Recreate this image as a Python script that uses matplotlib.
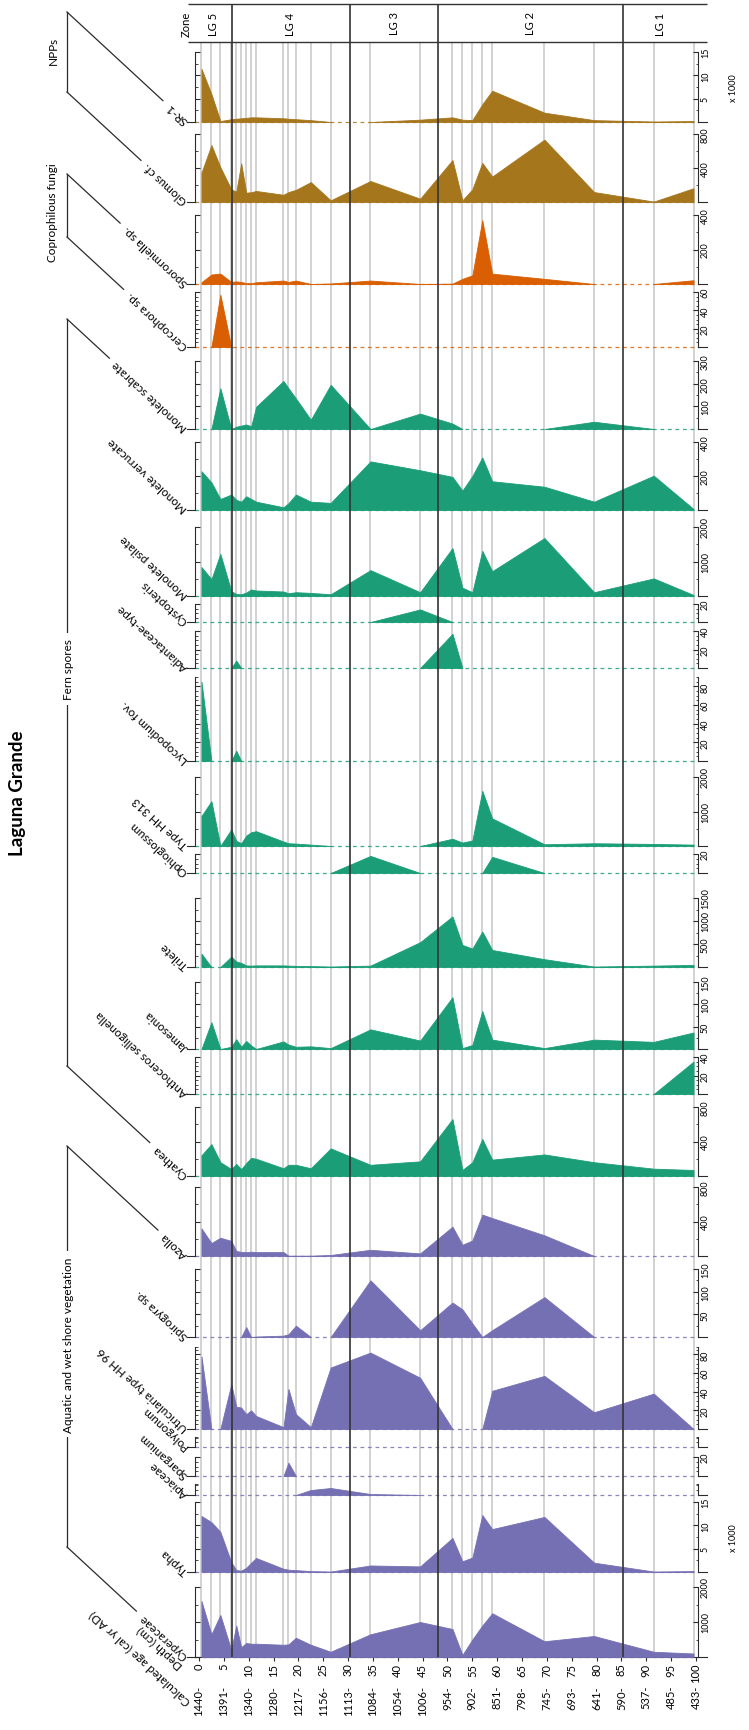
import numpy as np
import matplotlib
matplotlib.use("Agg")
from matplotlib import pyplot as plt

plt.rcParams['font.family'] = ['Lato', 'DejaVu Sans']

W, H = 749, 1731   # output size in pixels (dpi 100)

# ---------------- data ----------------
depth = [0.5, 2.5, 4.3, 6.5, 7.5, 8.5, 9.5, 10.5, 11.5, 17, 18, 19.5, 22.5, 26.5,
         34.5, 44.5, 51, 53, 55, 57, 59, 69.5, 79.5, 91.5, 99.5]
zone_bounds = [6.6, 30.4, 48.1, 85.4]
zone_names = ["LG 5", "LG 4", "LG 3", "LG 2", "LG 1"]
depth_ticks = list(range(0, 101, 5))
ages = [1440, 1391, 1340, 1280, 1217, 1156, 1113, 1084, 1054, 1006, 954,
        902, 851, 798, 745, 693, 641, 590, 537, 485, 433]

sr1 = [11.4, 6.0, 0.2, 0.6, 0.7, 0.8, 0.9, 1.0, 1.0, 0.8, 0.7, 0.6, 0.4, 0, 0,
       0.5, 1.0, 0.5, 0.4, 3.8, 6.7, 2.0, 0.4, 0.1, 0.2]
glomus = [345, 670, 410, 150, 120, 455, 110, 115, 130, 85, 117, 143, 234, 20, 247,
          39, 494, 20, 150, 460, 300, 734, 117, 5, 162]
sporormiella = [10, 55, 60, 12, 15, 12, 5, 5, 10, 20, 12, 20, 0, 3, 20,
                0, 2, 30, 50, 370, 60, 30, 0, 0, 22]
cercophora = [0, 0, 57, 0, 0, 0, 0, 0, 0, 0, 0, 0, 0, 0, 0,
              0, 0, 0, 0, 0, 0, 0, 0, 0, 0]
mono_scabrate = [0, 0, 180, 0, 10, 15, 20, 12, 98, 212, 180, 135, 41, 195, 0,
                 68, 24, 0, 0, 0, 0, 0, 32, 0, 0]
mono_verrucate = [228, 163, 65, 91, 60, 49, 81, 65, 49, 16, 40, 91, 49, 42, 286,
                  234, 195, 114, 200, 309, 169, 137, 49, 202, 6]
mono_psilate = [840, 490, 1220, 140, 60, 50, 100, 190, 160, 130, 80, 110, 90, 50, 750,
                110, 1390, 240, 110, 1310, 720, 1680, 110, 510, 30]
cystopteris = [0, 0, 0, 0, 0, 0, 0, 0, 0, 0, 0, 0, 0, 0, 0,
               14, 0, 0, 0, 0, 0, 0, 0, 0, 0]
adiantaceae = [0, 0, 0, 0, 8, 0, 0, 0, 0, 0, 0, 0, 0, 0, 0,
               0, 37, 0, 0, 0, 0, 0, 0, 0, 0]
lycopodium = [85, 0, 0, 0, 11, 0, 0, 0, 0, 0, 0, 0, 0, 0, 0,
              0, 0, 0, 0, 0, 0, 0, 0, 0, 0]
hh313 = [870, 1300, 0, 480, 150, 80, 300, 400, 430, 130, 80, 70, 40, 0, 0,
         0, 210, 100, 160, 1600, 800, 50, 80, 60, 40]
ophioglossum = [0, 0, 0, 0, 0, 0, 0, 0, 0, 0, 0, 0, 0, 0, 18,
                0, 0, 0, 0, 0, 17, 0, 0, 0, 0]
trilete = [290, 0, 0, 225, 120, 90, 35, 30, 35, 35, 30, 25, 20, 10, 30,
           540, 1100, 480, 400, 770, 370, 170, 10, 30, 45]
jamesonia = [0, 60, 0, 5, 22, 5, 18, 8, 0, 17, 10, 5, 6, 2, 44,
             19, 116, 2, 9, 85, 21, 2, 21, 16, 37]
anthoceros = [0, 0, 0, 0, 0, 0, 0, 0, 0, 0, 0, 0, 0, 0, 0,
              0, 0, 0, 0, 0, 0, 0, 0, 0, 35]
cyathea = [240, 370, 160, 80, 140, 80, 150, 210, 200, 90, 130, 130, 90, 320, 130,
           170, 660, 70, 160, 430, 190, 250, 160, 85, 70]
azolla = [320, 150, 212, 175, 58, 48, 45, 50, 45, 45, 4, 4, 4, 12, 72,
          30, 340, 130, 180, 480, 440, 240, 0, 0, 0]
spirogyra = [0, 0, 0, 0, 0, 0, 22, 0, 1, 3, 6, 25, 0, 0, 125,
             15, 76, 61, 30, 0, 15, 88, 0, 0, 0]
utricularia = [78, 0, 0, 48, 24, 23, 16, 20, 14, 2, 43, 16, 2, 66, 82,
               55, 0, 0, 0, 0, 41, 57, 18, 38, 0]
polygonum = [0] * 25
sparganium = [0, 0, 0, 0, 0, 0, 0, 0, 0, 0, 14, 0, 0, 0, 0,
              0, 0, 0, 0, 0, 0, 0, 0, 0, 0]
apiaceae = [0, 0, 0, 0, 0, 0, 0, 0, 0, 0, 0, 0, 5, 7, 1,
            0, 0, 0, 0, 0, 0, 0, 0, 0, 0]
typha = [12, 10.7, 8.6, 2.1, 0.4, 0.3, 0.9, 2.0, 3.0, 0.7, 0.5, 0.4, 0.2, 0.1, 1.4,
         1.2, 7.3, 2.3, 3.1, 12.2, 9.2, 11.8, 2.0, 0.1, 0.2]
cyperaceae = [1600, 650, 1200, 200, 900, 280, 400, 380, 380, 350, 360, 550, 350, 150, 650,
              1000, 800, 60, 500, 900, 1250, 450, 600, 150, 100]

BROWN, ORANGE, GREEN, PURPLE = "#A6761D", "#D95F02", "#1B9E77", "#7570B3"

# label, values, colour, axis max, labelled ticks, minor step, baseline px, top px
panels = [
    ("SR-1", sr1, BROWN, 15, [5, 10, 15], 2.5, 123, 53),
    ("Glomus cf.", glomus, BROWN, 800, [400, 800], 200, 203, 135),
    ("Sporormiella sp.", sporormiella, ORANGE, 400, [200, 400], 100, 285, 216),
    ("Cercophora sp.", cercophora, ORANGE, 60, [20, 40, 60], 5, 348, 293),
    ("Monolete scabrate", mono_scabrate, GREEN, 300, [100, 200, 300], 50, 430, 362),
    ("Monolete verrucate", mono_verrucate, GREEN, 400, [200, 400], 100, 511, 443),
    ("Monolete psilate", mono_psilate, GREEN, 2000, [1000, 2000], 500, 597, 528),
    ("Cystopteris", cystopteris, GREEN, 20, [20], 5, 623, 605),
    ("Adiantaceae-type", adiantaceae, GREEN, 40, [20, 40], 5, 669, 632),
    ("Lycopodium fov.", lycopodium, GREEN, 90, [20, 40, 60, 80], 5, 762, 678),
    ("Type HH 313", hh313, GREEN, 2000, [1000, 2000], 500, 847, 778),
    ("Ophioglossum", ophioglossum, GREEN, 20, [20], 5, 874, 855),
    ("Trilete", trilete, GREEN, 1500, [500, 1000, 1500], 250, 968, 899),
    ("Jamesonia", jamesonia, GREEN, 150, [50, 100, 150], 25, 1050, 983),
    ("Anthoceros selligonella", anthoceros, GREEN, 40, [20, 40], 5, 1095, 1058),
    ("Cyathea", cyathea, GREEN, 800, [400, 800], 200, 1177, 1108),
    ("Azolla", azolla, PURPLE, 800, [400, 800], 200, 1257, 1188),
    ("Spirogyra sp.", spirogyra, PURPLE, 150, [50, 100, 150], 25, 1338, 1270),
    ("Utricularia type HH 96", utricularia, PURPLE, 88, [20, 40, 60, 80], 5, 1430, 1348),
    ("Polygonum", polygonum, PURPLE, 11, [], 5, 1448, 1438),
    ("Sparganium", sparganium, PURPLE, 20, [20], 5, 1477, 1458),
    ("Apiaceae", apiaceae, PURPLE, 11, [], 5, 1496, 1485),
    ("Typha", typha, PURPLE, 15, [5, 10, 15], 2.5, 1573, 1503),
    ("Cyperaceae", cyperaceae, PURPLE, 2000, [1000, 2000], 500, 1658, 1588),
]
x1000 = ["SR-1", "Typha"]

groups = [
    ("NPPs", "SR-1", "Glomus cf.", 53, 51, False),
    ("Coprophilous fungi", "Sporormiella sp.", "Cercophora sp.", 53, 213, False),
    ("Fern spores", "Monolete scabrate", "Cyathea", 68, 670, True),
    ("Aquatic and wet shore vegetation", "Azolla", "Cyperaceae", 68, 1345, True),
]

# ---------------- layout helpers ----------------
X0, X1 = 195, 698          # panel left / right edges in pixels
XL = (-0.8, 100.4)         # depth range across the panels
TOP, BOTTOM = 5, 1658
HEAD = 43
LX = 186                   # where slanted labels start
SLOPE = 110 / 119
ANG = 180 - np.degrees(np.arctan(SLOPE))
AXC = "#2b2b2b"


def rect(x0, y0, x1, y1):
    return [x0 / W, 1 - y1 / H, (x1 - x0) / W, (y1 - y0) / H]


def px2depth(x):
    return XL[0] + (x - X0) * (XL[1] - XL[0]) / (X1 - X0)


def fill_runs(ax, x, y, color):
    x = np.asarray(x, float)
    y = np.asarray(y, float)
    runs, run = [], []
    for i in range(len(x) - 1):
        if y[i] > 0 or y[i + 1] > 0:
            if not run:
                run = [i]
            run.append(i + 1)
        elif run:
            runs.append(run)
            run = []
    if run:
        runs.append(run)
    for r in runs:
        ax.fill_between(x[r], 0, y[r], color=color, lw=0.6, zorder=3,
                        clip_on=False)


fig = plt.figure(figsize=(W / 100, H / 100), dpi=100)

# grey sample lines behind everything
bg = fig.add_axes(rect(X0, TOP, X1, BOTTOM), zorder=0)
bg.set_xlim(*XL)
bg.set_ylim(BOTTOM, TOP)
bg.axis('off')
bg.vlines(depth, HEAD, BOTTOM, color="#d2d2d2", lw=1.4)

axes = {}
for label, vals, col, ymax, major, minor, base, top in panels:
    ax = fig.add_axes(rect(X0, top, X1, base), zorder=2)
    ax.patch.set_visible(False)
    ax.set_xlim(*XL)
    ax.set_ylim(0, ymax)
    for s in ('top', 'bottom'):
        ax.spines[s].set_visible(False)
    for s in ('left', 'right'):
        ax.spines[s].set_linewidth(0.8)
        ax.spines[s].set_color(AXC)
    ax.set_xticks([])
    ax.set_yticks(major)
    ax.set_yticks(list(np.arange(minor, ymax, minor)) + [ymax], minor=True)
    ax.tick_params(axis='y', which='both', direction='in', left=True, right=True,
                   labelleft=False, labelright=True, labelsize=6.5, pad=2,
                   labelrotation=90, color=AXC)
    ax.tick_params(axis='y', which='major', length=3.5, width=0.8)
    ax.tick_params(axis='y', which='minor', length=1.8, width=0.6)
    for t in ax.get_yticklabels():
        t.set_va('center')
    ax.plot(XL, [0, 0], color=col, lw=0.9, ls=(0, (3, 3)), alpha=0.85, zorder=2,
            clip_on=False)
    fill_runs(ax, depth, vals, col)
    tr = ax.get_yaxis_transform()
    ax.plot([-0.016, 0], [0, 0], transform=tr, clip_on=False, color=AXC, lw=0.8)
    ax.plot([1, 1.018], [0, 0], transform=tr, clip_on=False, color=AXC, lw=0.8)
    axes[label] = ax

# depth and age scale under the last panel
axb = axes["Cyperaceae"]
axb.spines['bottom'].set_visible(True)
axb.spines['bottom'].set_linewidth(0.8)
axb.spines['bottom'].set_color(AXC)
axb.set_xticks(depth_ticks)
axb.set_xticklabels([str(d) for d in depth_ticks])
axb.tick_params(axis='x', direction='out', length=3, labelsize=8, labelrotation=90,
                pad=1, color=AXC)
sec = axb.secondary_xaxis(-0.40)
sec.set_xticks(depth_ticks)
sec.set_xticklabels([f"{a}-" for a in ages])
sec.tick_params(axis='x', length=0, labelsize=8, labelrotation=90, pad=0)
sec.spines['bottom'].set_visible(False)

# zone lines and header on top
ov = fig.add_axes(rect(X0, TOP, X1, BOTTOM), zorder=4)
ov.set_xlim(*XL)
ov.set_ylim(BOTTOM, TOP)
ov.axis('off')
ov.vlines(zone_bounds, TOP, BOTTOM, color="#333333", lw=1.2)
ov.hlines([TOP, HEAD], px2depth(188), px2depth(707), color="#333333", lw=1.0,
          clip_on=False)
edges = [XL[0]] + zone_bounds + [XL[1]]
for i, name in enumerate(zone_names):
    ov.text((edges[i] + edges[i + 1]) / 2, 24, name, rotation=90, ha='center',
            va='center', fontsize=8)
ov.text(px2depth(186), 24, "Zone", rotation=90, ha='center', va='center', fontsize=8)

# labels, group brackets, titles in pixel space
deco = fig.add_axes([0, 0, 1, 1], zorder=5)
deco.set_xlim(0, W)
deco.set_ylim(H, 0)
deco.axis('off')

base_of = {p[0]: p[6] for p in panels}
texts = {}
for label, vals, col, ymax, major, minor, base, top in panels:
    texts[label] = deco.text(LX, base, label, rotation=ANG, rotation_mode='anchor',
                             ha='left', va='center', fontsize=8.5)
for label in x1000:
    p = [q for q in panels if q[0] == label][0]
    deco.text(733, (p[6] + p[7]) / 2, "x 1000", rotation=90, ha='center',
              va='center', fontsize=6.5)

deco.text(181, 1667, "Depth (cm)", rotation=ANG, rotation_mode='anchor',
          ha='left', va='center', fontsize=8.5)
deco.text(189, 1703, "Calculated age (cal yr AD)", rotation=ANG,
          rotation_mode='anchor', ha='left', va='center', fontsize=8.5)
deco.text(18, 793, "Laguna Grande", rotation=90, ha='center', va='center',
          fontsize=13.5, fontweight='bold')

renderer = fig.canvas.get_renderer()
GX = 67
for name, first, last, tx, ty, inline in groups:
    ends = []
    for lab in (first, last):
        base = base_of[lab]
        y0 = base - (LX - GX) * SLOPE
        bb = texts[lab].get_window_extent(renderer=renderer)
        xe = bb.x0 - 1
        ye = base - (LX - xe) * SLOPE
        deco.plot([GX, xe], [y0, ye], color=AXC, lw=0.9)
        ends.append(y0)
    deco.plot([GX, GX], ends, color=AXC, lw=0.9)
    if inline:
        deco.text(tx, ty, name, rotation=90, ha='center', va='center', fontsize=8.5,
                  bbox=dict(facecolor='white', edgecolor='none', pad=4))
    else:
        deco.text(tx, ty, name, rotation=90, ha='center', va='center', fontsize=8.5)

fig.savefig("out.png", dpi=100)
